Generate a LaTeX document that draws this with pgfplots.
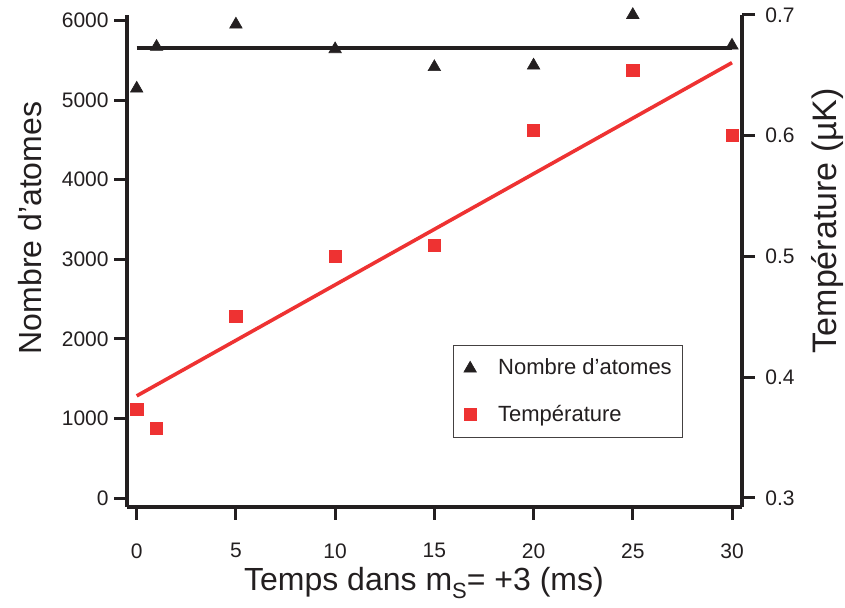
\documentclass[border=0pt]{standalone}
\usepackage{fontspec}
\setmainfont{Liberation Sans}
\usepackage{pgfplots}
\pgfplotsset{compat=1.18}
\definecolor{myred}{RGB}{238,50,50}
\definecolor{myblack}{RGB}{35,31,32}
\pgfplotsset{
  legimg/.style={legend image code/.code={\path[draw=none,fill=none] (0pt,-11.5pt) rectangle (16.8pt,11.5pt); \draw[##1] plot coordinates {(2.8pt,0pt)};}},
  base/.style={
    scale only axis, width=307.5pt, height=246pt,
    at={(63.5pt,50.5pt)}, anchor=south west,
    xmin=-0.489, xmax=30.504,
    axis line style={line width=1.6pt, color=myblack, -},
    tick style={line width=1.5pt, color=myblack},
    major tick length=6.5pt,
    tick align=outside,
    tick label style={font=\fontsize{10.5}{12}\selectfont, inner sep=0pt, color=myblack},
    /pgf/number format/assume math mode=true,
    clip=false,
  }
}
\begin{document}
\begin{tikzpicture}[x=1pt,y=1pt]
\path[use as bounding box] (0,0) rectangle (422.5,304);
\begin{axis}[base,
  axis x line*=bottom, axis y line*=left,
  ymin=-113, ymax=6069,
  xtick={0,5,10,15,20,25,30}, ytick={0,1000,2000,3000,4000,5000,6000},
  /pgf/number format/set thousands separator={},
  xticklabel style={yshift=-11.5pt},
  yticklabel style={xshift=-2.5pt},
  every axis x label/.style={at={(axis description cs:0.4829,-0.1545)}, anchor=center, font=\fontsize{16}{19}\selectfont, color=myblack},
  every axis y label/.style={at={(axis description cs:-0.1577,0.567)}, rotate=90, anchor=center, font=\fontsize{16}{19}\selectfont, color=myblack},
  xlabel={Temps dans m\raisebox{-0.22em}{\fontsize{11}{12}\selectfont S}= +3 (ms)},
  ylabel={Nombre d’atomes},
]
\addplot[myblack, line width=2pt] coordinates {(0,5650) (30,5650)};
\addplot[only marks, color=myblack, mark=triangle*, mark size=3.6pt, mark options={solid, fill=myblack, draw=myblack, line width=0.3pt}] coordinates {
(0,5145) (1,5670) (5,5950) (10,5640) (15,5415) (20,5435) (25,6070) (30,5685)};
\end{axis}
\begin{axis}[base,
  axis x line=none, axis y line*=right,
  ymin=0.2925, ymax=0.70,
  ytick={0.3,0.4,0.5,0.6,0.7},
  yticklabel style={/pgf/number format/fixed, /pgf/number format/precision=1, /pgf/number format/fixed zerofill, xshift=5pt},
  every axis y label/.style={at={(axis description cs:1.1398,0.582)}, rotate=90, anchor=center, font=\fontsize{17}{20}\selectfont, color=myblack},
  ylabel={Température (µK)},
  legend cell align=left,
  legend style={at={(axis description cs:0.5301,0.3293)}, anchor=north west, draw=myblack!85, line width=0.5pt, fill=white, inner xsep=5.2pt, inner ysep=0pt, row sep=0pt, column sep=0pt, nodes={inner sep=0pt, font=\fontsize{11}{13}\selectfont, text=myblack}},
]
\addlegendimage{only marks, color=myblack, mark=triangle*, mark size=3.6pt, mark options={solid, fill=myblack, draw=myblack, line width=0.3pt}, legimg}
\addlegendentry{Nombre d’atomes}
\addplot[myred, line width=1.8pt, forget plot] coordinates {(0,0.3845) (30,0.6605)};
\addplot[only marks, color=myred, mark=square*, mark size=3.1pt, mark options={solid, fill=myred, draw=myred, line width=0.3pt}, legimg] coordinates {
(0,0.3735) (1,0.3578) (5,0.4505) (10,0.5002) (15,0.509) (20,0.6045) (25,0.6542) (30,0.6004)};
\addlegendentry{Température}
\end{axis}
\end{tikzpicture}
\end{document}
